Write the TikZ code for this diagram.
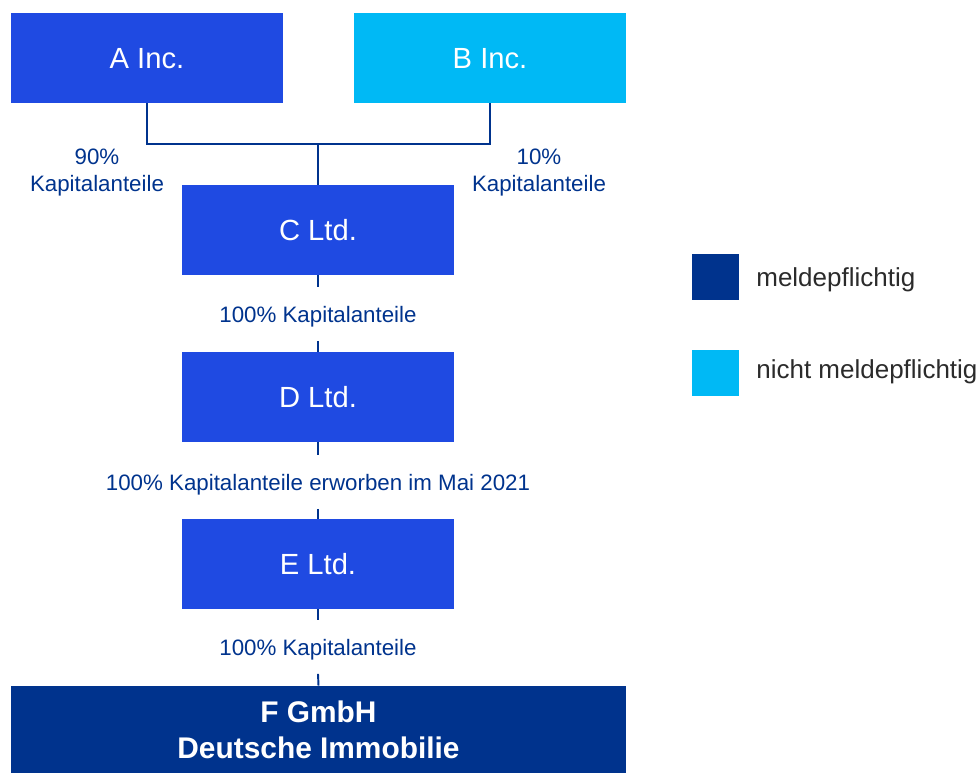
\documentclass[tikz,border=0pt]{standalone}
\usepackage{fontspec}
\setmainfont{Liberation Sans}
\definecolor{midblue}{HTML}{1F4AE2}
\definecolor{lightblue}{HTML}{00B9F5}
\definecolor{navy}{HTML}{00338D}
\definecolor{legendgray}{HTML}{2B2B2B}
\tikzset{
  firm/.style={fill=midblue,text=white,minimum width=5.44cm,minimum height=1.8cm,inner sep=0pt,text depth=0pt,font=\fontsize{16.6}{20}\selectfont},
  share/.style={text=navy,inner sep=0pt,minimum height=1.06cm,align=center,text depth=0pt,font=\fontsize{12.7}{15.4}\selectfont},
  link/.style={navy,line width=1.1pt},
  legbox/.style={minimum width=0.94cm,minimum height=0.92cm,inner sep=0pt},
  legtext/.style={anchor=west,inner sep=0pt,text depth=0pt,text=legendgray,font=\fontsize{14.8}{18}\selectfont}
}
\begin{document}
\begin{tikzpicture}[x=0.02cm,y=-0.02cm]
\useasboundingbox (0,0) rectangle (978,773);

% companies
\node[firm] (ainc) at (147,58) {A Inc.};
\node[firm,fill=lightblue] (binc) at (490,58) {B Inc.};
\node[firm] (cltd) at (318,230) {C Ltd.};
\node[firm] (dltd) at (318,397) {D Ltd.};
\node[firm] (eltd) at (318,564) {E Ltd.};
\node[fill=navy,text=white,minimum width=12.3cm,minimum height=1.74cm,inner sep=0pt,align=center,
      font=\fontsize{17}{20.5}\selectfont\bfseries] (fgmbh) at (318.5,729.5) {F GmbH\\Deutsche Immobilie};

% shares
\coordinate (join) at (318,144);
\draw[link] (ainc.south) |- (join) -| (binc.south);
\draw[link] (join) -- (cltd.north);
\node[share,minimum height=0pt] (sharea) at (97,170) {90\%\\Kapitalanteile};
\node[share,minimum height=0pt] (shareb) at (539,170) {10\%\\Kapitalanteile};

\node[share] (sharec) at (318,314) {100\% Kapitalanteile};
\draw[link] (cltd.south) -- (sharec.north);
\draw[link] (sharec.south) -- (dltd.north);

\node[share] (shared) at (318,482) {100\% Kapitalanteile erworben im Mai 2021};
\draw[link] (dltd.south) -- (shared.north);
\draw[link] (shared.south) -- (eltd.north);

\node[share] (sharee) at (318,647) {100\% Kapitalanteile};
\draw[link] (eltd.south) -- (sharee.north);
\draw[link] (sharee.south) -- (fgmbh.north);

% legend
\node[legbox,fill=navy] (keyrep) at (715.5,277) {};
\node[legbox,fill=lightblue] (keynorep) at (715.5,373) {};
\node[legtext] (txtrep) at (756,277) {meldepflichtig};
\node[legtext] (txtnorep) at (756,369) {nicht meldepflichtig};
\end{tikzpicture}
\end{document}
